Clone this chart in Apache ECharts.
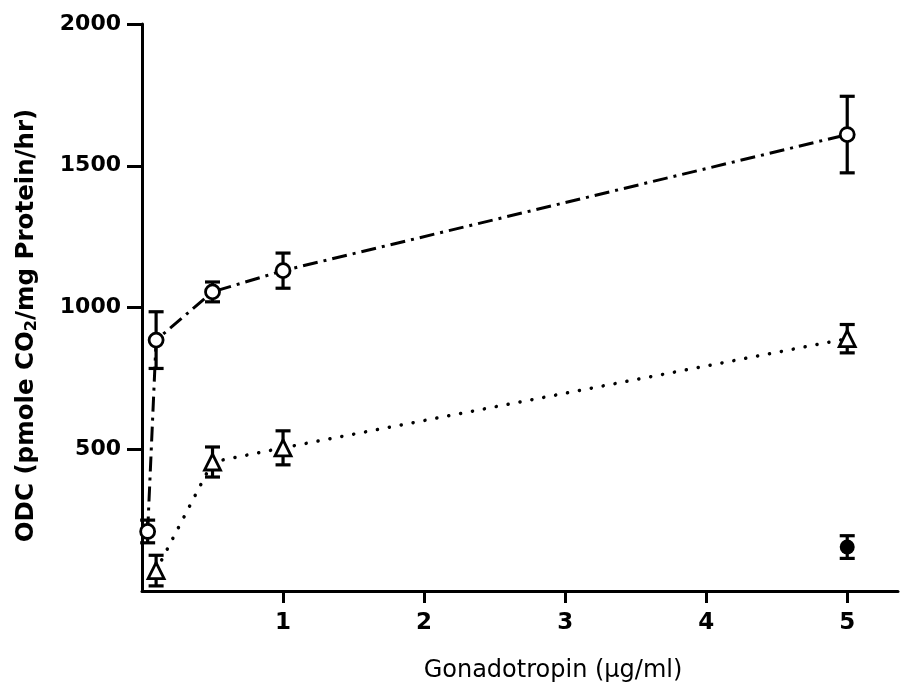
<!DOCTYPE html>
<html>
<head>
<meta charset="utf-8">
<script src="https://cdn.jsdelivr.net/npm/echarts@6/dist/echarts.min.js"></script>
<style>
html, body { margin: 0; padding: 0; background: #fff; }
#chart { width: 900px; height: 688px; }
</style>
</head>
<body>
<div id="chart"></div>
<script>
// open circles, dash-dot line
var doseCircle = [0.04, 0.1, 0.5, 1, 5];
var odcCircle = [210, 885, 1055, 1130, 1610];
var errCircle = [40, 100, 35, 62, 135];
// open triangles, dotted line
var doseTri = [0.1, 0.5, 1, 5];
var odcTri = [72, 455, 505, 890];
var errTri = [54, 53, 60, 50];
// filled circle
var doseFilled = [5];
var odcFilled = [155];
var errFilled = [40];

var xTicks = [1, 2, 3, 4, 5];
var yTicks = [500, 1000, 1500, 2000];

function pairs(xs, ys) {
  return xs.map(function (x, i) { return [x, ys[i]]; });
}
function errRows(xs, ys, es) {
  return xs.map(function (x, i) { return [x, ys[i] - es[i], ys[i] + es[i]]; });
}

// error bar with caps
function errorBar(params, api) {
  var lo = api.coord([api.value(0), api.value(1)]);
  var hi = api.coord([api.value(0), api.value(2)]);
  var w = 7.5;
  var st = { stroke: '#000', lineWidth: 3.2 };
  return {
    type: 'group',
    children: [
      { type: 'line', shape: { x1: lo[0], y1: lo[1], x2: hi[0], y2: hi[1] }, style: st },
      { type: 'line', shape: { x1: lo[0] - w, y1: lo[1], x2: lo[0] + w, y2: lo[1] }, style: st },
      { type: 'line', shape: { x1: hi[0] - w, y1: hi[1], x2: hi[0] + w, y2: hi[1] }, style: st }
    ]
  };
}

var chart = echarts.init(document.getElementById('chart'));
var font = 'DejaVu Sans, Liberation Sans, sans-serif';

var option = {
  animation: false,
  backgroundColor: '#fff',
  grid: { left: 142, right: 2, top: 24, bottom: 96, containLabel: false },
  xAxis: {
    type: 'value',
    min: 0,
    max: 5.36,
    interval: 1,
    splitLine: { show: false },
    axisLine: { lineStyle: { color: '#000', width: 3 } },
    axisTick: { inside: false, length: 12, customValues: xTicks, lineStyle: { color: '#000', width: 3 } },
    axisLabel: {
      customValues: xTicks,
      margin: 21,
      color: '#000',
      fontFamily: font,
      fontWeight: 'bold',
      fontSize: 23,
      formatter: function (v) { return String(v); }
    },
    name: 'Gonadotropin (\u03bcg/ml)',
    nameLocation: 'middle',
    nameGap: 68,
    nameTextStyle: {
      color: '#000',
      fontFamily: font,
      fontSize: 24,
      padding: [0, 0, 0, 66]
    }
  },
  yAxis: {
    type: 'value',
    min: 0,
    max: 2000,
    interval: 500,
    splitLine: { show: false },
    axisLine: { lineStyle: { color: '#000', width: 3 } },
    axisTick: { inside: false, length: 15, customValues: yTicks, lineStyle: { color: '#000', width: 3 } },
    axisLabel: {
      customValues: yTicks,
      margin: 21,
      color: '#000',
      fontFamily: font,
      fontWeight: 'bold',
      fontSize: 22,
      formatter: function (v) { return String(v); }
    },
    name: '{t|ODC (pmole CO}{s|2}{t|/mg Protein/hr)}',
    nameLocation: 'middle',
    nameRotate: 90,
    nameGap: 102,
    nameTextStyle: {
      color: '#000',
      padding: [0, 36, 0, 0],
      rich: {
        t: { fontFamily: font, fontWeight: 'bold', fontSize: 24.5, color: '#000' },
        s: { fontFamily: font, fontWeight: 'bold', fontSize: 16, color: '#000', padding: [10, 0, 0, 0] }
      }
    }
  },
  series: [
    {
      type: 'line',
      data: pairs(doseCircle, odcCircle),
      symbol: 'none',
      lineStyle: { color: '#000', width: 3, type: [15, 6, 3, 6] },
      z: 2
    },
    {
      type: 'line',
      data: pairs(doseTri, odcTri),
      symbol: 'none',
      lineStyle: { color: '#000', width: 3.5, type: [0.1, 12], cap: 'round' },
      z: 2
    },
    { type: 'custom', data: errRows(doseCircle, odcCircle, errCircle), renderItem: errorBar, z: 3 },
    { type: 'custom', data: errRows(doseTri, odcTri, errTri), renderItem: errorBar, z: 3 },
    { type: 'custom', data: errRows(doseFilled, odcFilled, errFilled), renderItem: errorBar, z: 3 },
    {
      type: 'scatter',
      data: pairs(doseCircle, odcCircle),
      symbol: 'circle',
      symbolSize: 14,
      itemStyle: { color: '#fff', borderColor: '#000', borderWidth: 2.8, opacity: 1 },
      z: 4
    },
    {
      type: 'scatter',
      data: pairs(doseTri, odcTri),
      symbol: 'triangle',
      symbolSize: 16,
      itemStyle: { color: '#fff', borderColor: '#000', borderWidth: 2.8, opacity: 1 },
      z: 4
    },
    {
      type: 'scatter',
      data: pairs(doseFilled, odcFilled),
      symbol: 'circle',
      symbolSize: 15,
      itemStyle: { color: '#000', opacity: 1 },
      z: 4
    }
  ]
};

chart.setOption(option);
</script>
</body>
</html>
